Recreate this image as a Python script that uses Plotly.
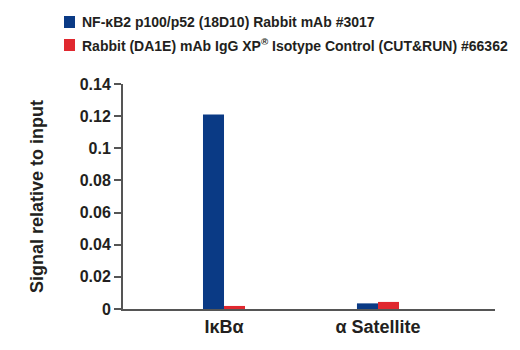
import plotly.graph_objects as go

categories = ["IκBα", "α Satellite"]
series_names = [
    "NF-κB2 p100/p52 (18D10) Rabbit mAb #3017",
    "Rabbit (DA1E) mAb IgG XP<sup>®</sup> Isotype Control (CUT&RUN) #66362",
]
nfkb2_values = [0.121, 0.0035]
igg_values = [0.0019, 0.0044]
series_colors = ["#0a3a85", "#e0282f"]
y_ticks = [0, 0.02, 0.04, 0.06, 0.08, 0.1, 0.12, 0.14]

W, H = 520, 350
L, R, T, B = 123, 25, 84, 41
PW, PH = W - L - R, H - T - B

def px_x(p):
    return (p - L) / PW

def px_y(p):
    return (H - B - p) / PH

fig = go.Figure()
for name, vals, col in zip(series_names, [nfkb2_values, igg_values], series_colors):
    fig.add_trace(go.Bar(x=list(range(len(categories))), y=vals, name=name,
                         marker=dict(color=col, line=dict(width=0)), showlegend=False))

font_main = "Liberation Sans, Arial, sans-serif"

# custom legend
legend_rows_y = [22, 45]
for name, col, ry in zip(series_names, series_colors, legend_rows_y):
    fig.add_shape(type="rect", xref="paper", yref="paper",
                  x0=px_x(64), x1=px_x(75), y0=px_y(ry - 6), y1=px_y(ry + 6),
                  fillcolor=col, line=dict(width=0))
    fig.add_annotation(xref="paper", yref="paper", x=px_x(80), y=px_y(ry),
                       xanchor="left", yanchor="middle", text="<b>" + name + "</b>",
                       showarrow=False, font=dict(family=font_main, size=14, color="#231f20"))

fig.update_layout(
    width=W, height=H,
    margin=dict(l=L, r=R, t=T, b=B, pad=0),
    paper_bgcolor="white", plot_bgcolor="white",
    barmode="group", bargap=0.727, bargroupgap=0,
    font=dict(family=font_main, color="#231f20"),
)
fig.update_xaxes(
    tickmode="array", tickvals=list(range(len(categories))),
    ticktext=["<b>" + c + "</b>" for c in categories],
    range=[-0.656, 1.760], showgrid=False, zeroline=False,
    showline=True, linecolor="#555555", linewidth=2, ticks="",
    tickfont=dict(family=font_main, size=18, color="#231f20"),
)
fig.update_yaxes(
    range=[0, 0.14], tickvals=y_ticks, ticktext=["<b>%g</b>" % v for v in y_ticks],
    showgrid=False, zeroline=False,
    showline=True, linecolor="#555555", linewidth=2,
    ticks="outside", ticklen=7, tickwidth=1.5, tickcolor="#555555",
    tickfont=dict(family=font_main, size=16, color="#231f20"),
    title=dict(text="<b>Signal relative to input</b>", standoff=31,
               font=dict(family=font_main, size=18, color="#231f20")),
)
fig.write_html("out.html")
